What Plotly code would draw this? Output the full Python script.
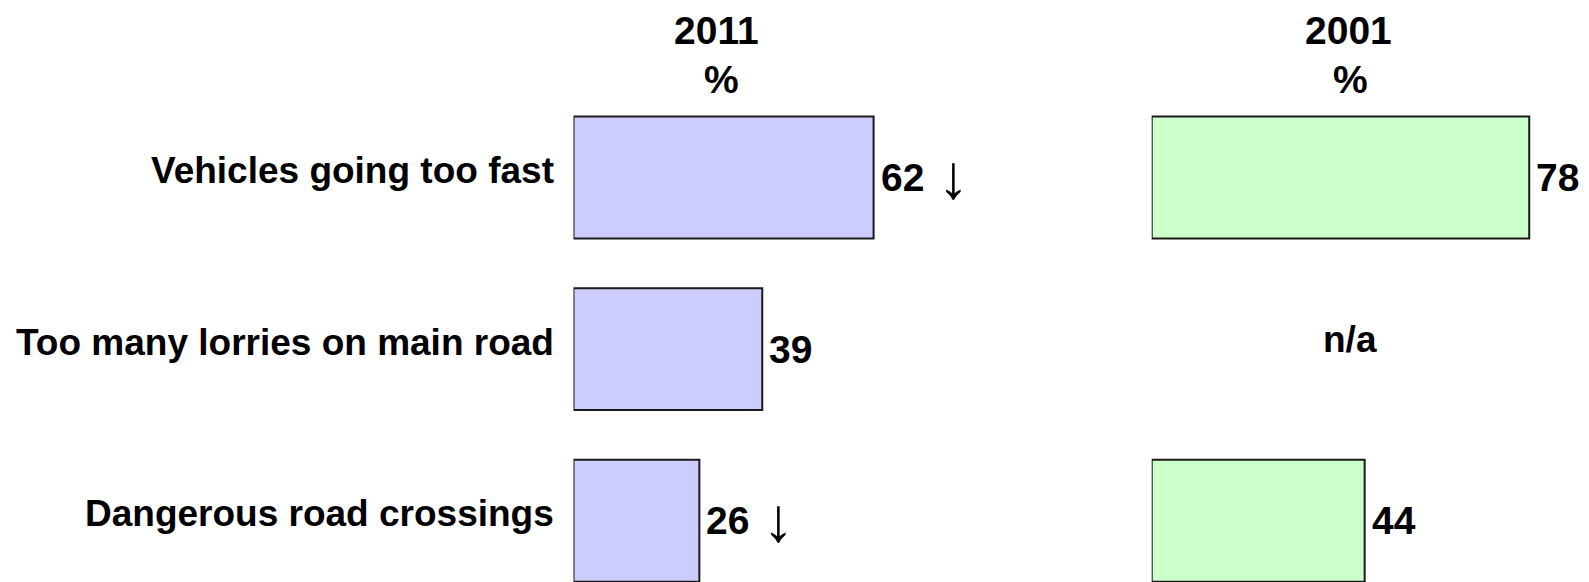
import plotly.graph_objects as go
from plotly.subplots import make_subplots

categories = ["Vehicles going too fast", "Too many lorries on main road", "Dangerous road crossings"]
values_2011 = [62, 39, 26]
values_2001 = [78, None, 44]
arrows_2011 = [True, False, True]
year_labels = ["2011", "2001"]
na_label = "n/a"

W, H = 1589, 582
FONT = "Liberation Sans, Arial, sans-serif"
FS = 37
FS_VAL = 39

fig = make_subplots(rows=1, cols=2, shared_yaxes=False, horizontal_spacing=0)

fig.add_trace(go.Bar(
    y=categories, x=values_2011, orientation="h",
    marker=dict(color="#CCCCFF", line=dict(color="#1a1a1a", width=2)),
    width=0.71, hoverinfo="skip", showlegend=False,
), row=1, col=1)

fig.add_trace(go.Bar(
    y=categories, x=values_2001, orientation="h",
    marker=dict(color="#CCFFCC", line=dict(color="#1a1a1a", width=2)),
    width=0.71, hoverinfo="skip", showlegend=False,
), row=1, col=2)

# pixel layout
left_x0, scale = 573.5, 4.84
right_x0 = 1151.7
xr1, xr2 = 100, 89
yc0, ystep = 177.5, 171.65
ytop = -yc0 / ystep
ybot = (H - yc0) / ystep

axis_common = dict(showgrid=False, zeroline=False, showticklabels=False, showline=False, ticks="")
fig.update_xaxes(**axis_common)
fig.update_yaxes(**axis_common)
fig.update_layout(
    xaxis=dict(domain=[left_x0 / W, (left_x0 + scale * xr1) / W], range=[0, xr1]),
    xaxis2=dict(domain=[right_x0 / W, (right_x0 + scale * xr2) / W], range=[0, xr2]),
    yaxis=dict(domain=[0, 1], range=[ybot, ytop], categoryorder="array", categoryarray=categories),
    yaxis2=dict(domain=[0, 1], range=[ybot, ytop], categoryorder="array", categoryarray=categories),
)

anns = []
# column headers
for lbl, cx, pcx in [(year_labels[0], 716.7, 721.5), (year_labels[1], 1348, 1350)]:
    anns.append(dict(text=f"<b>{lbl}</b>", x=cx / W, y=1 - 30 / H, xref="paper", yref="paper",
                     xanchor="center", yanchor="middle", showarrow=False,
                     font=dict(family=FONT, size=39, color="black")))
    anns.append(dict(text="<b>%</b>", x=pcx / W, y=1 - 80 / H, xref="paper", yref="paper",
                     xanchor="center", yanchor="middle", showarrow=False,
                     font=dict(family=FONT, size=39, color="black")))
# category labels
for c in categories:
    anns.append(dict(text=f"<b>{c}</b>", x=556 / W, xref="paper", y=c, yref="y",
                     xanchor="right", yanchor="middle", yshift=7, showarrow=False,
                     font=dict(family=FONT, size=FS, color="black")))
# value labels + change arrows
for c, v, a in zip(categories, values_2011, arrows_2011):
    anns.append(dict(text=f"<b>{v}</b>", x=v, xref="x", y=c, yref="y",
                     xanchor="left", yanchor="middle", xshift=5, yshift=0,
                     showarrow=False, font=dict(family=FONT, size=FS_VAL, color="black")))
    if a:
        anns.append(dict(text="↓", x=v, xref="x", y=c, yref="y",
                         xanchor="left", yanchor="middle", xshift=62, yshift=1,
                         showarrow=False, font=dict(family=FONT, size=62, color="black")))
for c, v in zip(categories, values_2001):
    if v is None:
        anns.append(dict(text=f"<b>{na_label}</b>", x=1350 / W, xref="paper", y=c, yref="y2",
                         xanchor="center", yanchor="middle", yshift=10, showarrow=False,
                         font=dict(family=FONT, size=FS, color="black")))
    else:
        anns.append(dict(text=f"<b>{v}</b>", x=v, xref="x2", y=c, yref="y2",
                         xanchor="left", yanchor="middle", xshift=5, yshift=0, showarrow=False,
                         font=dict(family=FONT, size=FS_VAL, color="black")))

fig.update_layout(
    width=W, height=H,
    margin=dict(l=0, r=0, t=0, b=0),
    paper_bgcolor="white", plot_bgcolor="white",
    annotations=anns,
    showlegend=False,
)

fig.write_html("out.html", config={"displayModeBar": False},
               post_script="document.body.style.margin='0';document.body.style.overflow='hidden';")
